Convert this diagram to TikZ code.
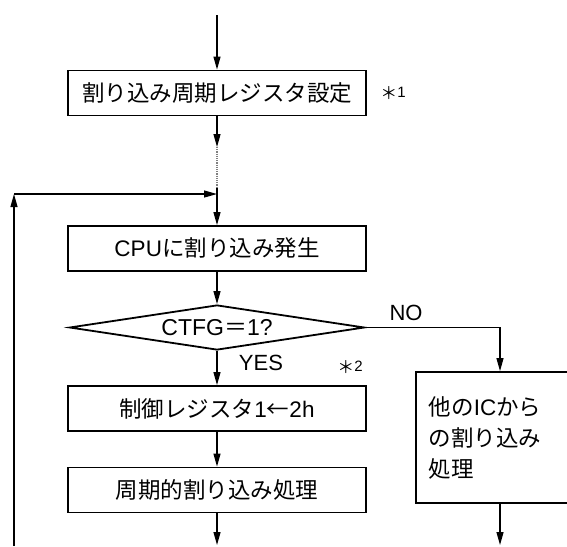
\documentclass[tikz,border=0pt]{standalone}
\usepackage{fontspec}
\setmainfont{Liberation Sans}
\newfontfamily\jp{Noto Sans CJK JP}
\usetikzlibrary{arrows.meta,shapes.geometric}
\newcommand{\notemark}[1]{{\jp\fontsize{17}{17}\selectfont ＊}\raisebox{1.5pt}{#1}}
\begin{document}
\begin{tikzpicture}[x=1pt, y=-1pt, line width=1.2pt, >={Triangle[length=13pt,width=7pt]},
  box/.style={draw, line width=1.8pt, minimum width=298pt, minimum height=45pt, inner sep=0pt, font=\fontsize{22.5}{31}\selectfont},
  cond/.style={draw, diamond, aspect=6.5, line width=1.8pt, minimum width=295pt, minimum height=45pt, inner sep=0pt, font=\fontsize{23}{29}\selectfont},
  lbl/.style={inner sep=0pt, font=\fontsize{22}{26}\selectfont},
  note/.style={inner sep=0pt, font=\fontsize{15}{18}\selectfont}]
\clip (0,0) rectangle (567,546);
\node[box] (set) at (217,93) {\jp 割り込み周期レジスタ設定};
\node[note] (note1) at (393,93) {\notemark{1}};
\node[box] (irq) at (217,248.5) {CPU{\jp に割り込み発生}};
\node[cond] (flag) at (217,327.5) {CTFG{\jp ＝}1?};
\node[lbl] (no) at (406,313) {NO};
\node[lbl] (yes) at (261,363) {YES};
\node[note] (note2) at (350,367) {\notemark{2}};
\node[box] (ctrl) at (217,408.5) {{\jp 制御レジスタ}1{\jp ←}2h};
\node[box] (proc) at (217,490) {\jp 周期的割り込み処理};
\node[box, anchor=west, minimum height=131pt, inner xsep=13pt, text width=272pt, align=left] (other) at (415,437.5) {{\jp 他の}IC{\jp から}\\{\jp の割り込み}\\{\jp 処理}};
\coordinate (top) at (217,15);
\coordinate (dots) at (217,147);
\coordinate (gap) at (217,188);
\coordinate (merge) at (217,194);
\coordinate (back) at (14,194);
\coordinate (loop) at (14,546);
\coordinate (turn) at (500,327.5);
\coordinate (end) at (217,545);
\coordinate (end2) at (500,545);
\draw[->] (top) -- (set);
\draw[->] (set) -- (dots);
\draw[densely dotted, gray] (dots) -- (gap);
\draw[->] (gap) -- (irq);
\draw[->] (loop) -- (back);
\draw[->] (back) -- (merge);
\draw[->] (irq) -- (flag);
\draw[->] (flag) -- (ctrl);
\draw[->] (ctrl) -- (proc);
\draw[->] (proc) -- (end);
\draw[->] (flag.east) -- (turn) -- (turn |- other.north);
\draw[->] (turn |- other.south) -- (end2);
\end{tikzpicture}
\end{document}
